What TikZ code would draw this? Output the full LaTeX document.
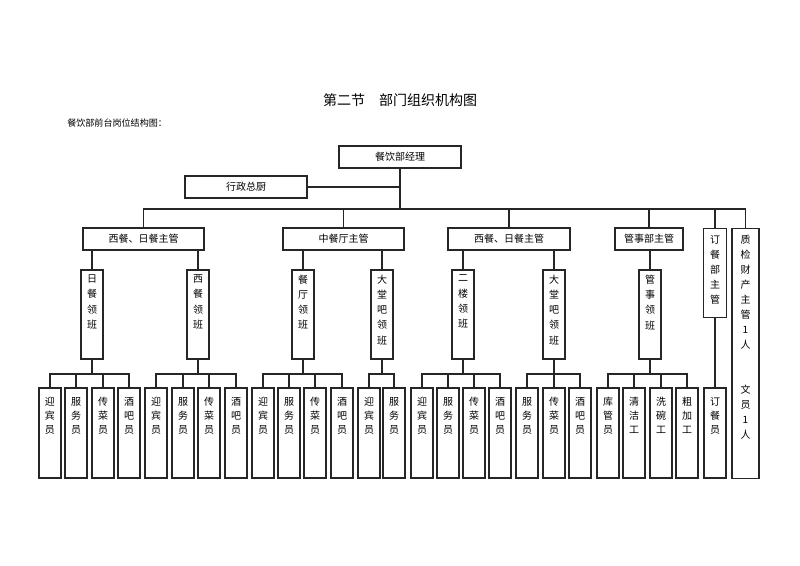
\documentclass[tikz,border=0pt]{standalone}
\usepackage{fontspec}
\setmainfont{Noto Sans CJK SC}
\newcommand\vlab[4]{\parbox[c][#1][t]{15pt}{\centering\fontsize{7.5pt}{#3}\selectfont\vspace*{#2}#4\par}}
\begin{document}
\begin{tikzpicture}[x=0.75pt,y=-0.75pt,
  every node/.style={font=\fontsize{7.5pt}{9pt}\selectfont, inner sep=0pt},
  hbox/.style={draw=black!85, line width=0.8pt, minimum height=16.5pt},
  vb/.style={draw=black!85, line width=0.8pt, minimum width=16.5pt},
  conn/.style={draw=black!85, line width=0.8pt}]
\useasboundingbox (0,0) rectangle (800,566);

% titles
\node (title) at (400,100) {\fontsize{10.5pt}{12pt}\selectfont 第二节　部门组织机构图};
\node[anchor=west] (sub) at (67,123) {\fontsize{6.8pt}{8pt}\selectfont 餐饮部前台岗位结构图：};

% top
\node[hbox, minimum width=91.5pt] (M) at (400,157) {餐饮部经理};
\node[hbox, minimum width=91.5pt] (X) at (246,187) {行政总厨};
\coordinate (bus) at (0,209);
\coordinate (lb) at (0,374);

% level 2
\node[hbox, minimum width=90.75pt] (A) at (143.5,239) {西餐、日餐主管};
\node[hbox, minimum width=90.75pt] (Z) at (343.5,239) {中餐厅主管};
\node[hbox, minimum width=91.5pt] (B) at (509,239) {西餐、日餐主管};
\node[hbox, minimum width=51pt] (G) at (649,239) {管事部主管};
\node[vb, anchor=north, minimum width=17pt] (D) at (715,228) {\vlab{66.75pt}{5.25pt}{11.25pt}{订\\餐\\部\\主\\管}};
\node[vb, anchor=north, minimum width=20.25pt] (Q) at (745.5,228) {\vlab{187.5pt}{5.25pt}{11.25pt}{质\\检\\财\\产\\主\\管\\1\\人\\[22.5pt]文\\员\\1\\人}};

% leaders
\node[vb] (L1) at (92,314.5) {\vlab{66.75pt}{3.75pt}{11.4pt}{日\\餐\\领\\班}};
\node[vb] (L2) at (198,314.5) {\vlab{66.75pt}{3.75pt}{11.4pt}{西\\餐\\领\\班}};
\node[vb] (L3) at (303,314.5) {\vlab{66.75pt}{3.75pt}{11.4pt}{餐\\厅\\领\\班}};
\node[vb] (L4) at (382,314.5) {\vlab{66.75pt}{3.75pt}{11.4pt}{大\\堂\\吧\\领\\班}};
\node[vb] (L5) at (463,314.5) {\vlab{66.75pt}{3.75pt}{11.4pt}{二\\楼\\领\\班}};
\node[vb] (L6) at (554,314.5) {\vlab{66.75pt}{3.75pt}{11.4pt}{大\\堂\\吧\\领\\班}};
\node[vb] (L7) at (650,314.5) {\vlab{66.75pt}{3.75pt}{11.4pt}{管\\事\\领\\班}};

% leaves
\foreach \i/\x/\t in {1/50/{迎\\宾\\员}, 2/76/{服\\务\\员}, 3/103/{传\\菜\\员}, 4/129/{酒\\吧\\员},
  5/156/{迎\\宾\\员}, 6/183/{服\\务\\员}, 7/209/{传\\菜\\员}, 8/236/{酒\\吧\\员},
  9/263/{迎\\宾\\员}, 10/289/{服\\务\\员}, 11/315/{传\\菜\\员}, 12/342/{酒\\吧\\员},
  13/369/{迎\\宾\\员}, 14/394/{服\\务\\员},
  15/422/{迎\\宾\\员}, 16/448/{服\\务\\员}, 17/474/{传\\菜\\员}, 18/500/{酒\\吧\\员},
  19/527/{服\\务\\员}, 20/554/{传\\菜\\员}, 21/580/{酒\\吧\\员},
  22/608/{库\\管\\员}, 23/634/{清\\洁\\工}, 24/661/{洗\\碗\\工}, 25/687/{粗\\加\\工},
  26/715/{订\\餐\\员}}
  \node[vb] (f\i) at (\x,433) {\vlab{67.5pt}{6.75pt}{10.5pt}{\t}};

% connectors top
\draw[conn] (M.south) -- (M.south |- bus);
\draw[conn] (X.east) -- (X.east -| M.south);
\draw[conn] (A.north) |- (Q.north |- bus) -- (Q.north);
\foreach \n in {Z,B,G,D} \draw[conn] (\n.north) -- (\n.north |- bus);

% level 2 to leaders
\foreach \p/\l in {A/L1, A/L2, Z/L3, Z/L4, B/L5, B/L6, G/L7}
  \draw[conn] (\p.south -| \l.north) -- (\l.north);

% leaders to leaves
\foreach \l/\a/\b in {L1/f1/f4, L2/f5/f8, L3/f9/f12, L4/f13/f14, L5/f15/f18, L6/f19/f21, L7/f22/f25} {
  \draw[conn] (\l.south) -- (\l.south |- lb);
  \draw[conn] (\a.north) |- (\b.north |- lb) -- (\b.north);
}
\foreach \f in {f2,f3,f6,f7,f10,f11,f16,f17,f20,f23,f24}
  \draw[conn] (\f.north) -- (\f.north |- lb);
\draw[conn] (D.south) -- (f26.north);
\end{tikzpicture}
\end{document}
